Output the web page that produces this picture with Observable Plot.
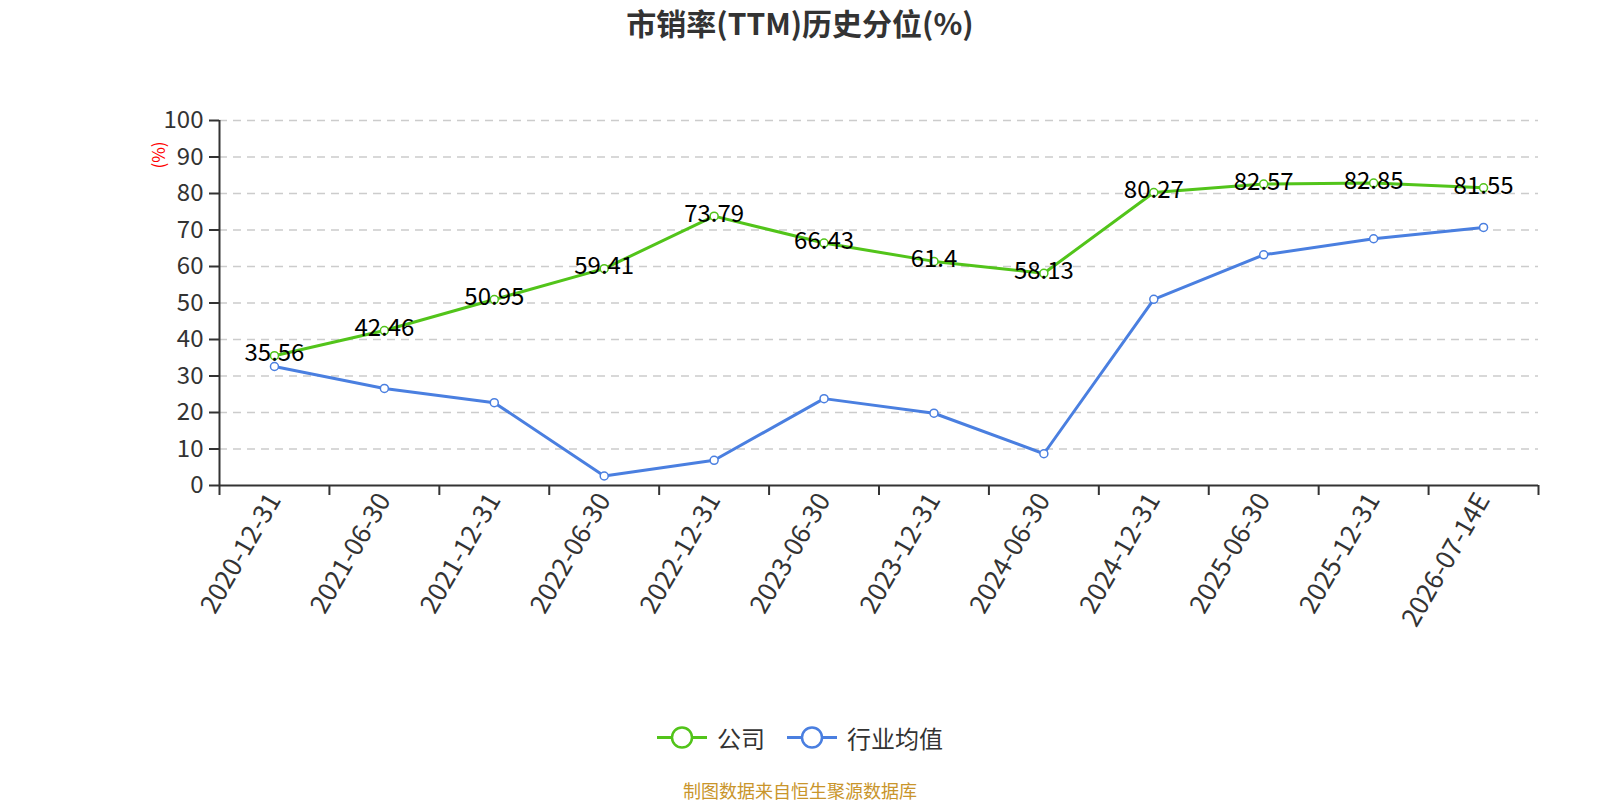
<!DOCTYPE html>
<html>
<head>
<meta charset="utf-8">
<script src="https://cdn.jsdelivr.net/npm/d3@7"></script>
<script src="https://cdn.jsdelivr.net/npm/@observablehq/plot@0.6"></script>
<style>
  html, body { margin: 0; padding: 0; background: #fff; }
  body { width: 1600px; height: 800px; position: relative; overflow: hidden;
         font-family: "Noto Sans CJK SC", "Noto Sans", sans-serif; }
  #title { position: absolute; left: 0; top: 0; width: 1600px; height: 45px; line-height: 45px;
           text-align: center; font-size: 30px; font-weight: bold; color: #333; }
  #chart { position: absolute; left: 0; top: 45px; }
  #unit { position: absolute; left: 157px; top: 155px; transform: translate(-50%, -50%) rotate(-90deg);
          color: #f00; font-size: 17px; white-space: nowrap; }
  #legend { position: absolute; left: 0; top: 737px; width: 1600px; transform: translateY(-50%);
            display: flex; justify-content: center; align-items: center; gap: 0; font-size: 24px; color: #333; }
  .item { display: flex; align-items: center; margin: 0 11px; }
  .item svg { margin-right: 10px; }
  #caption { position: absolute; left: 0; top: 790px; width: 1600px; transform: translateY(-50%);
             text-align: center; font-size: 18px; color: #c9952b; }
</style>
</head>
<body>
<div id="title">市销率(TTM)历史分位(%)</div>
<div id="chart"></div>
<div id="unit">(%)</div>
<div id="legend"></div>
<div id="caption">制图数据来自恒生聚源数据库</div>
<script>
// ---- data ----
const dates = ["2020-12-31","2021-06-30","2021-12-31","2022-06-30","2022-12-31","2023-06-30",
               "2023-12-31","2024-06-30","2024-12-31","2025-06-30","2025-12-31","2026-07-14E"];
const company = [35.56, 42.46, 50.95, 59.41, 73.79, 66.43, 61.4, 58.13, 80.27, 82.57, 82.85, 81.55];
const industry = [32.6, 26.6, 22.7, 2.6, 6.9, 23.8, 19.8, 8.7, 51.0, 63.2, 67.6, 70.7];
const yTicks = [0, 10, 20, 30, 40, 50, 60, 70, 80, 90, 100];
const seriesNames = ["公司", "行业均值"];
const colors = ["#52c41a", "#4a7fe0"];

const rowsC = dates.map((d, i) => ({i, date: d, v: company[i]}));
const rowsI = dates.map((d, i) => ({i, date: d, v: industry[i]}));
const idx = d3.range(dates.length);
const bounds = d3.range(dates.length + 1).map(i => i - 0.5);

const chart = Plot.plot({
  width: 1600,
  height: 620,
  marginTop: 75,
  marginBottom: 180,
  marginLeft: 219,
  marginRight: 62,
  style: {fontFamily: '"Noto Sans CJK SC", "Noto Sans", sans-serif', background: "#fff"},
  x: {type: "linear", domain: [-0.5, dates.length - 0.5], axis: null},
  y: {domain: [0, 100], axis: null},
  marks: [
    Plot.ruleY(yTicks.filter(t => t > 0), {stroke: "#ccc", strokeWidth: 1.5, strokeDasharray: "8,6"}),
    Plot.axisY(yTicks, {tickSize: 10, tickPadding: 6, fontSize: 24, fill: "#333", stroke: "#333", strokeWidth: 2, label: null}),
    Plot.axisX(bounds, {tickSize: 10, tickFormat: () => "", stroke: "#333", strokeWidth: 2, label: null}),
    Plot.axisX(idx, {tickSize: 0, tickPadding: 10, tickRotate: -60, fontSize: 26, fill: "#333",
                     tickFormat: i => dates[i], label: null}),
    Plot.ruleY([0], {stroke: "#333", strokeWidth: 2}),
    Plot.ruleX([bounds[0]], {y1: 0, y2: 100, stroke: "#333", strokeWidth: 2}),
    Plot.line(rowsC, {x: "i", y: "v", stroke: colors[0], strokeWidth: 3}),
    Plot.line(rowsI, {x: "i", y: "v", stroke: colors[1], strokeWidth: 3}),
    Plot.dot(rowsC, {x: "i", y: "v", r: 4, fill: "#fff", stroke: colors[0], strokeWidth: 1.5}),
    Plot.dot(rowsI, {x: "i", y: "v", r: 4, fill: "#fff", stroke: colors[1], strokeWidth: 1.5}),
    Plot.text(rowsC, {x: "i", y: "v", text: d => String(d.v), dy: -2, fontSize: 24, fill: "#000"})
  ]
});
document.getElementById("chart").appendChild(chart);

// legend
const legend = document.getElementById("legend");
seriesNames.forEach((name, k) => {
  const item = document.createElement("div");
  item.className = "item";
  item.innerHTML = `<svg width="50" height="24" viewBox="0 0 50 24">
      <line x1="0" y1="12" x2="50" y2="12" stroke="${colors[k]}" stroke-width="3"/>
      <circle cx="25" cy="12" r="10" fill="#fff" stroke="${colors[k]}" stroke-width="2.5"/>
    </svg><span>${name}</span>`;
  legend.appendChild(item);
});
</script>
</body>
</html>
